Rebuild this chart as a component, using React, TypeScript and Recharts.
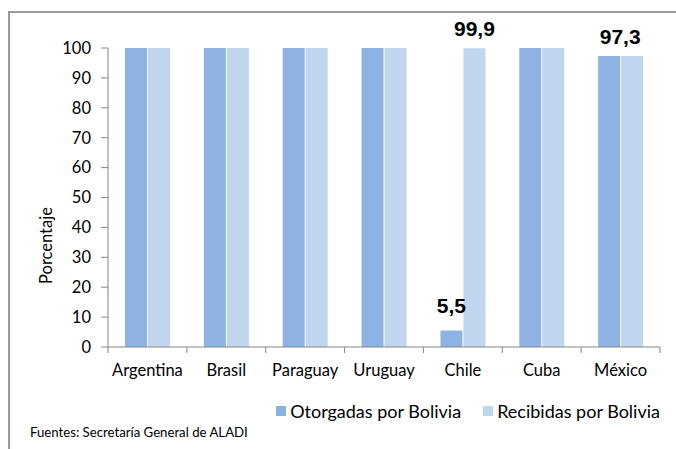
import React from "react";
import { Bar, BarChart, LabelList, XAxis, YAxis } from "recharts";

const categories = ["Argentina", "Brasil", "Paraguay", "Uruguay", "Chile", "Cuba", "México"];
const otorgadas = [100, 100, 100, 100, 5.5, 100, 97.3];
const recibidas = [100, 100, 100, 100, 99.9, 100, 97.3];
// only some bars carry a value label in the original
const otorgadasLabels = [null, null, null, null, "5,5", null, "97,3"];
const recibidasLabels = [null, null, null, null, "99,9", null, null];
const yTicks = [0, 10, 20, 30, 40, 50, 60, 70, 80, 90, 100];

const DARK = "#8DB3E2";
const LIGHT = "#C0D5EE";
const AXIS = "#868686";
const FONT = "Lato, 'Open Sans', sans-serif";
const X_TICK_MARGIN = 17;

const rows = categories.map((name, i) => ({
  name,
  otorgadas: otorgadas[i],
  recibidas: recibidas[i],
  otorgadasLabel: otorgadasLabels[i],
  recibidasLabel: recibidasLabels[i],
}));

function ValueLabel(props: any) {
  const { x, y, width, value, lift = 12, shift = 0 } = props;
  if (value == null) return null;
  return (
    <text
      x={Number(x) + Number(width) / 2 + shift}
      y={Number(y) - lift}
      textAnchor="middle"
      fontFamily="'Liberation Sans', Arial, sans-serif"
      fontWeight="bold"
      fontSize={21}
      fill="#000"
    >
      {value}
    </text>
  );
}

function OtorgadasLabel(props: any) {
  const { value } = props;
  // Chile's small bar label sits higher; México's label is centred over the pair
  if (value === "5,5") return <ValueLabel {...props} lift={18} />;
  return <ValueLabel {...props} lift={12} shift={11} />;
}

// Excel puts the category tick marks between categories, not under them
function CategoryTick(props: any) {
  const { x, y, payload, index, visibleTicksCount } = props;
  const half = Number(payload?.offset ?? 0);
  const axisY = Number(y) - X_TICK_MARGIN;
  const isLast = index === (visibleTicksCount ?? categories.length) - 1;
  return (
    <g>
      <line x1={x - half} x2={x - half} y1={axisY} y2={axisY + 6} stroke={AXIS} />
      {isLast && <line x1={x + half} x2={x + half} y1={axisY} y2={axisY + 6} stroke={AXIS} />}
      <text x={x} y={y} dy="0.71em" textAnchor="middle" fill="#000" fontSize={16.5} fontFamily={FONT}>
        {payload.value}
      </text>
    </g>
  );
}

export default function App() {
  return (
    <div
      style={{
        position: "absolute",
        left: 0,
        top: 0,
        width: 676,
        height: 449,
        background: "#fff",
        fontFamily: FONT,
      }}
    >
      <div
        style={{
          position: "absolute",
          left: 8,
          top: 11,
          right: 0,
          bottom: 0,
          borderTop: "2px solid #9a9a9a",
          borderLeft: "2px solid #9a9a9a",
        }}
      />
      <BarChart
        width={676}
        height={449}
        data={rows}
        margin={{ top: 48, right: 16, left: 48, bottom: 72 }}
        barGap={1}
        barSize={22}
        style={{ position: "absolute", left: 0, top: 0 }}
      >
        <XAxis
          dataKey="name"
          height={30}
          axisLine={{ stroke: AXIS }}
          tickLine={false}
          tickSize={0}
          tickMargin={X_TICK_MARGIN}
          tick={CategoryTick}
          interval={0}
        />
        <YAxis
          width={60}
          domain={[0, 100]}
          ticks={yTicks}
          tickSize={7}
          tickMargin={10}
          axisLine={{ stroke: AXIS }}
          tickLine={{ stroke: AXIS }}
          tick={{ fill: "#000", fontSize: 16.5, fontFamily: FONT }}
          label={{
            value: "Porcentaje",
            angle: -90,
            position: "insideLeft",
            dx: -7,
            dy: 48,
            style: { fill: "#000", fontSize: 16.5, fontFamily: FONT, textAnchor: "middle" },
          }}
        />
        <Bar dataKey="otorgadas" fill={DARK} isAnimationActive={false}>
          <LabelList dataKey="otorgadasLabel" content={OtorgadasLabel} />
        </Bar>
        <Bar dataKey="recibidas" fill={LIGHT} isAnimationActive={false}>
          <LabelList dataKey="recibidasLabel" content={ValueLabel} />
        </Bar>
      </BarChart>
      <div
        style={{
          position: "absolute",
          top: 400,
          right: 16,
          display: "flex",
          gap: 22,
          fontSize: 18,
          color: "#000",
        }}
      >
        {[
          { label: "Otorgadas por Bolivia", color: DARK },
          { label: "Recibidas por Bolivia", color: LIGHT },
        ].map((s) => (
          <span key={s.label} style={{ display: "inline-flex", alignItems: "center", gap: 4 }}>
            <span style={{ width: 10, height: 10, background: s.color, display: "inline-block" }} />
            {s.label}
          </span>
        ))}
      </div>
      <div
        style={{
          position: "absolute",
          left: 30,
          top: 424,
          fontSize: 13.2,
          color: "#000",
        }}
      >
        Fuentes: Secretaría General de ALADI
      </div>
    </div>
  );
}
